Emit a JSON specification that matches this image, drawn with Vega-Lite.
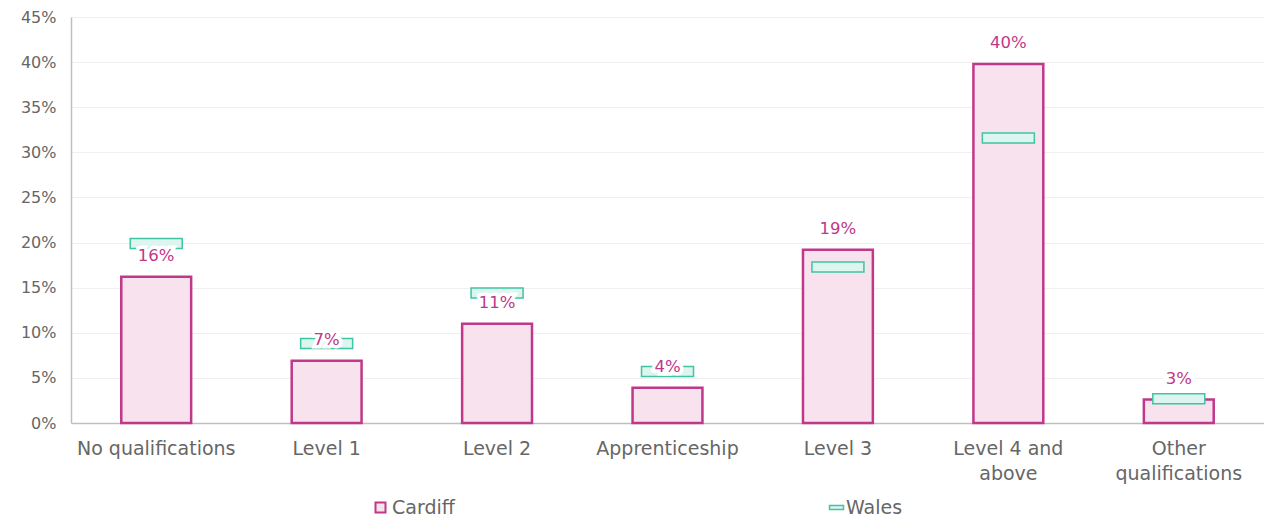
{
  "$schema": "https://vega.github.io/schema/vega-lite/v6.json",
  "width": 1193,
  "height": 406,
  "autosize": "none",
  "padding": {"left": 71, "top": 17, "right": 0, "bottom": 95},
  "background": "white",
  "config": {
    "font": "DejaVu Sans",
    "view": {"stroke": null},
    "axis": {"labelFont": "DejaVu Sans", "labelColor": "#666666", "labelFontSize": 19, "ticks": false, "title": null},
    "legend": {"labelFont": "DejaVu Sans", "labelFontSize": 19, "labelColor": "#666666"}
  },
  "data": {
    "values": [
      {"category": "No qualifications", "cardiff": 0.162, "wales": 0.199},
      {"category": "Level 1", "cardiff": 0.069, "wales": 0.088},
      {"category": "Level 2", "cardiff": 0.110, "wales": 0.144},
      {"category": "Apprenticeship", "cardiff": 0.039, "wales": 0.057},
      {"category": "Level 3", "cardiff": 0.192, "wales": 0.173},
      {"category": "Level 4 and above", "cardiff": 0.398, "wales": 0.316},
      {"category": "Other qualifications", "cardiff": 0.026, "wales": 0.027}
    ]
  },
  "encoding": {
    "x": {
      "field": "category",
      "type": "nominal",
      "sort": null,
      "scale": {"paddingInner": 0, "paddingOuter": 0},
      "axis": {
        "labelAngle": 0,
        "labelPadding": 16,
        "labelLineHeight": 25,
        "domainColor": "#bfbfbf",
        "domainWidth": 1.5,
        "grid": false,
        "labelExpr": "datum.value == 'Level 4 and above' ? ['Level 4 and', 'above'] : datum.value == 'Other qualifications' ? ['Other', 'qualifications'] : datum.value"
      }
    }
  },
  "layer": [
    {
      "mark": {"type": "bar", "width": {"band": 0.41}, "stroke": "#c0388a", "strokeWidth": 2.5},
      "encoding": {
        "y": {
          "field": "cardiff",
          "type": "quantitative",
          "scale": {"domain": [0, 0.45], "nice": false},
          "axis": {
            "values": [0, 0.05, 0.1, 0.15, 0.2, 0.25, 0.3, 0.35, 0.4, 0.45],
            "format": ".0%",
            "labelFontSize": 16,
            "labelPadding": 15,
            "gridColor": "#efefef",
            "domainColor": "#bfbfbf",
            "domainWidth": 1.5
          }
        },
        "color": {
          "datum": "Cardiff",
          "scale": {"domain": ["Cardiff"], "range": ["#f8e2ee"]},
          "legend": {
            "orient": "none",
            "legendX": 300,
            "legendY": 481,
            "title": null,
            "symbolSize": 100,
            "symbolType": "square",
            "symbolStrokeColor": "#c0388a",
            "symbolStrokeWidth": 2,
            "labelOffset": 2
          }
        }
      }
    },
    {
      "mark": {"type": "tick", "size": 52, "thickness": 10, "stroke": "#40c4a4", "strokeWidth": 1.5, "opacity": 1},
      "encoding": {
        "y": {"field": "wales", "type": "quantitative"},
        "fill": {
          "datum": "Wales",
          "scale": {"domain": ["Wales"], "range": ["#dcf5ef"]},
          "legend": {
            "orient": "none",
            "legendX": 756,
            "legendY": 481,
            "title": null,
            "symbolSize": 196,
            "symbolType": "M-1,-0.28H1V0.28H-1Z",
            "symbolStrokeColor": "#40c4a4",
            "symbolStrokeWidth": 1.5,
            "labelOffset": 0
          }
        }
      }
    },
    {
      "mark": {"type": "text", "font": "DejaVu Sans", "fontSize": 16.5, "dy": -21, "baseline": "middle", "color": "white", "stroke": "white", "strokeWidth": 7, "strokeJoin": "miter"},
      "encoding": {
        "y": {"field": "cardiff", "type": "quantitative"},
        "text": {"field": "cardiff", "type": "quantitative", "format": ".0%"}
      }
    },
    {
      "mark": {"type": "text", "font": "DejaVu Sans", "fontSize": 16.5, "dy": -21, "baseline": "middle", "color": "#c0388a"},
      "encoding": {
        "y": {"field": "cardiff", "type": "quantitative"},
        "text": {"field": "cardiff", "type": "quantitative", "format": ".0%"}
      }
    }
  ]
}
